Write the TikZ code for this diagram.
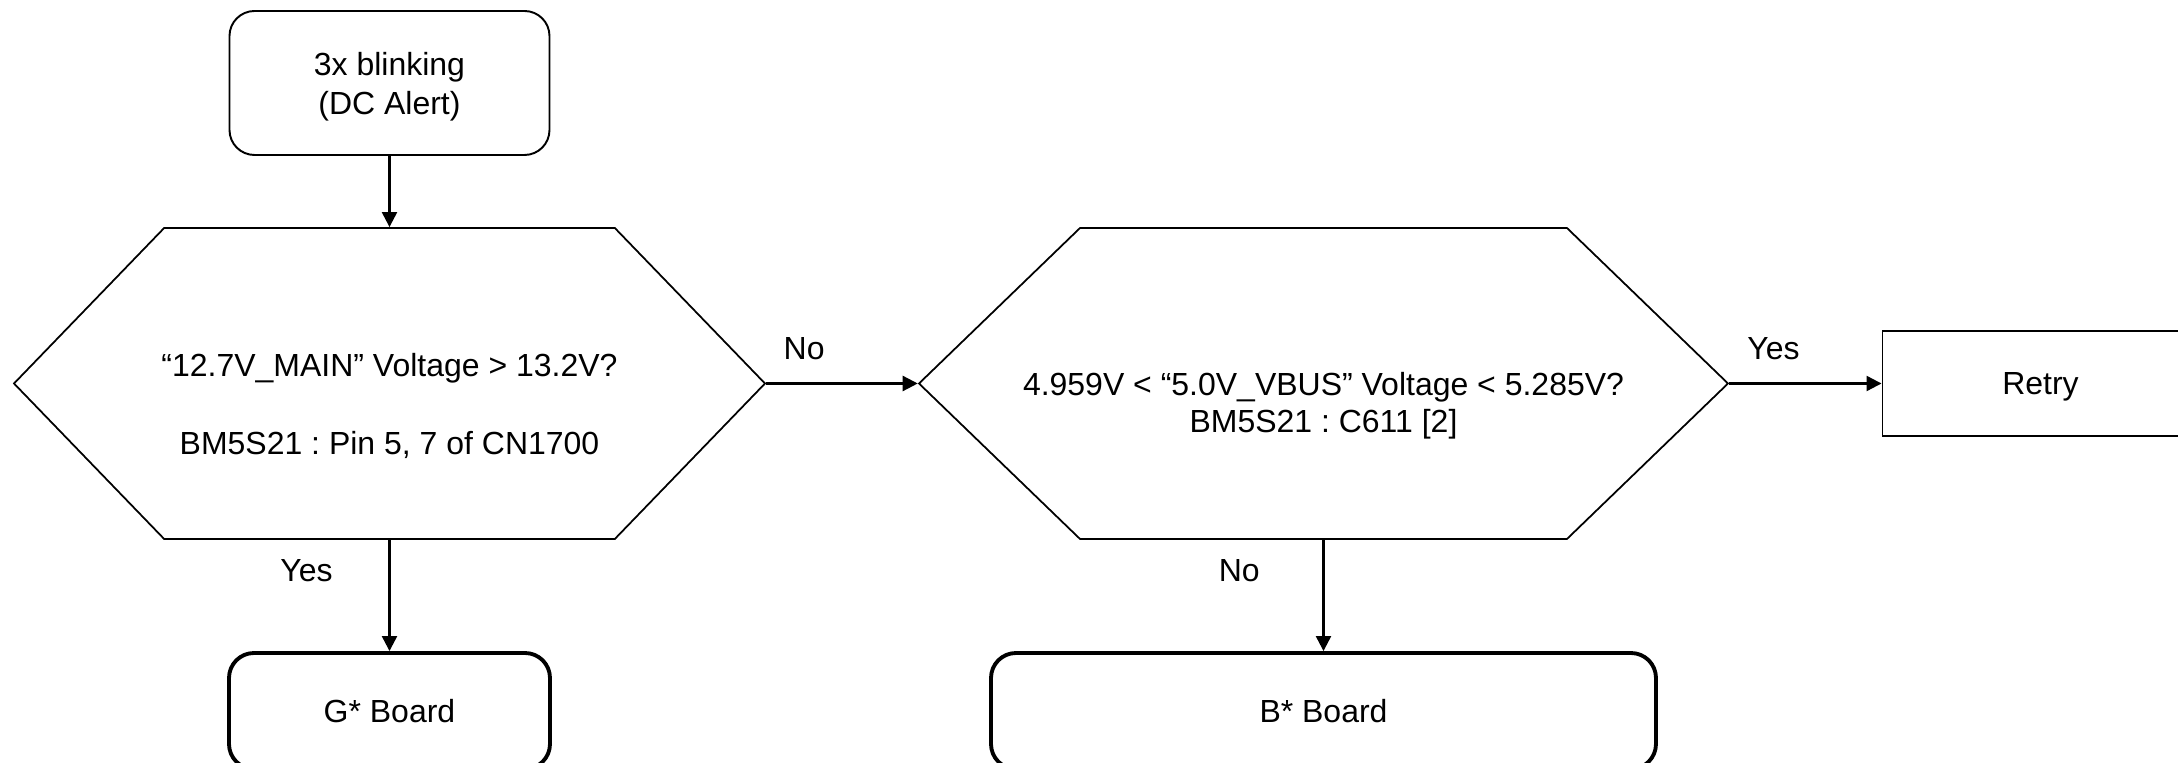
\documentclass[tikz,border=0pt]{standalone}
\usepackage{fontspec}
\setmainfont{Liberation Sans}
\frenchspacing
\usetikzlibrary{arrows.meta,shapes.symbols}
\tikzset{
  box/.style={draw,rounded corners=0.25cm,line width=0.55pt,align=center},
  board/.style={draw,rounded corners=0.25cm,line width=1.1pt,minimum height=1.16cm},
  hexbox/.style={draw,signal,signal to=west and east,line width=0.5pt,minimum height=3.11cm},
  flow/.style={-{Triangle[length=0.15cm,width=0.15cm]},line width=0.65pt},
}
\begin{document}
\begin{tikzpicture}[font=\fontsize{9.1}{11.1}\selectfont]
  \useasboundingbox (0,0) rectangle (21.78,-7.63);
  \node[box,text depth=0pt,minimum width=3.2cm,minimum height=1.44cm] (S) at (3.895,-0.83) {3x blinking\\(DC Alert)};
  \node[hexbox,signal pointer angle=92,minimum width=7.51cm] (Q1) at (3.895,-3.835) {};
  \node[align=center] (Q1t) at ([yshift=-0.22cm]Q1.center) {“12.7V\_MAIN” Voltage > 13.2V?\\[11.1pt]BM5S21 : Pin 5, 7 of CN1700};
  \node[hexbox,signal pointer angle=88,minimum width=8.09cm] (Q2) at (13.235,-3.835) {};
  \node[align=center,font=\fontsize{9.1}{10.5}\selectfont] (Q2t) at ([yshift=-0.22cm]Q2.center) {4.959V < “5.0V\_VBUS” Voltage < 5.285V?\\BM5S21 : C611 [2]};
  \node[draw,line width=0.55pt,text depth=0pt,minimum width=3.16cm,minimum height=1.05cm] (R) at (20.405,-3.835) {Retry};
  \node[board,minimum width=3.21cm] (G) at (3.895,-7.11) {G* Board};
  \node[board,minimum width=6.65cm] (B) at (13.235,-7.11) {B* Board};
  \draw[flow] (S) -- (Q1);
  \draw[flow] (Q1.east) -- node[above=0.11cm,pos=0.25] {No} (Q2.west);
  \draw[flow] (Q2.east) -- node[above=0.11cm,pos=0.29] {Yes} (R.west);
  \draw[flow] (Q1.south) -- node[left=0.44cm,pos=0.28] {Yes} (G.north);
  \draw[flow] (Q2.south) -- node[left=0.51cm,pos=0.28] {No} (B.north);
\end{tikzpicture}
\end{document}
